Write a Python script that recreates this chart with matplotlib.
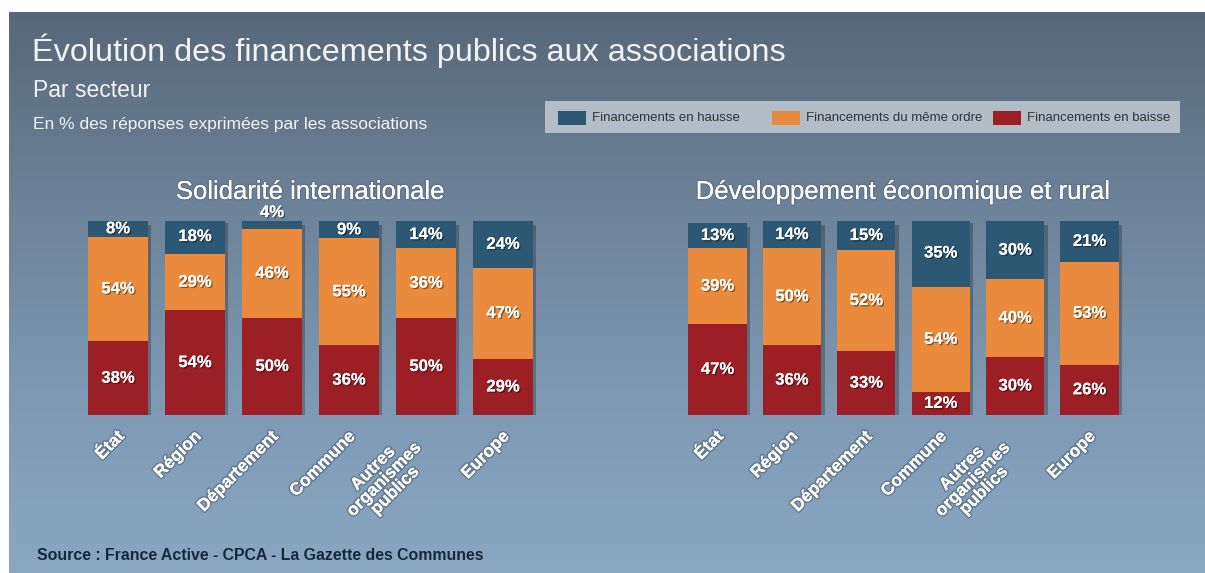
import numpy as np
import matplotlib
matplotlib.use("Agg")
import matplotlib.pyplot as plt
import matplotlib.patheffects as pe
from matplotlib.colors import LinearSegmentedColormap
from matplotlib.patches import Rectangle

plt.rcParams['font.family'] = ['Liberation Sans', 'DejaVu Sans']

# data (% of answers)
categories = ['État', 'Région', 'Département', 'Commune', 'Autres\norganismes\npublics', 'Europe']
series_labels = ['Financements en hausse', 'Financements du même ordre', 'Financements en baisse']

solidarite_hausse = [8, 18, 4, 9, 14, 24]
solidarite_meme = [54, 29, 46, 55, 36, 47]
solidarite_baisse = [38, 54, 50, 36, 50, 29]

dev_hausse = [13, 14, 15, 35, 30, 21]
dev_meme = [39, 50, 52, 54, 40, 53]
dev_baisse = [47, 36, 33, 12, 30, 26]

BLUE = '#2d5874'
ORANGE = '#ea8a3c'
RED = '#9c1f25'

W, H = 1205, 573
fig = plt.figure(figsize=(W / 100, H / 100), dpi=100)
fig.patch.set_facecolor('white')

# gradient backdrop
bg = fig.add_axes([9 / W, 0, 1 - 9 / W, 1 - 12 / H])
cmap = LinearSegmentedColormap.from_list('bg', ['#56687a', '#6c8298', '#7d98b2', '#8aa7c2'])
grad = np.linspace(0, 1, 256).reshape(-1, 1)
bg.imshow(grad, aspect='auto', cmap=cmap, extent=[0, 1, 1, 0])
bg.set_axis_off()


def fx(x):
    return x / W


def fy(y):
    return 1 - y / H


def px_axes(left_px, width_px):
    # bars: 100 % = 194 px, baseline at y=415 px from top
    ax = fig.add_axes([left_px / W, (H - 415) / H, width_px / W, 194 / H])
    ax.set_facecolor('none')
    ax.set_xlim(-0.5, 5.5)
    ax.set_ylim(0, 100)
    ax.set_axis_off()
    return ax


def draw_panel(ax, hausse, meme, baisse, width, title):
    x = np.arange(len(categories))
    baisse = np.array(baisse)
    meme = np.array(meme)
    hausse = np.array(hausse)
    total = baisse + meme + hausse
    # soft drop shadow
    ax.bar(x + 0.05, total, width, bottom=-2, color='black', alpha=0.25, zorder=1)
    ax.bar(x, baisse, width, color=RED, zorder=2)
    ax.bar(x, meme, width, bottom=baisse, color=ORANGE, zorder=2)
    ax.bar(x, hausse, width, bottom=baisse + meme, color=BLUE, zorder=2)

    shadow = [pe.withSimplePatchShadow(offset=(1, -1), shadow_rgbFace='black', alpha=0.4), pe.Normal()]
    for i in range(len(x)):
        segs = [(0, baisse[i]), (baisse[i], meme[i]), (baisse[i] + meme[i], hausse[i])]
        for b, v in segs:
            if v < 6:
                y, va = b + v + 0.5, 'bottom'
            else:
                y, va = b + v / 2, 'center'
            ax.text(x[i], y, f'{v}%', ha='center', va=va, color='white',
                    fontsize=12, fontweight='bold', zorder=5, path_effects=shadow)
        ax.text(x[i] + 0.12, -7, categories[i], rotation=45, ha='right', va='top',
                multialignment='center', color='white', fontsize=12.5, fontweight='bold',
                linespacing=1.05, clip_on=False,
                path_effects=[pe.withStroke(linewidth=2.4, foreground='#4a5d70', alpha=0.5), pe.Normal()])
    ax.text(2.5, 115, title, ha='center', va='center', color='white', fontsize=18.5,
            clip_on=False, path_effects=[pe.withStroke(linewidth=2, foreground='#50627a', alpha=0.4), pe.Normal()])


ax1 = px_axes(118 - 38.5, 6 * 77)
draw_panel(ax1, solidarite_hausse, solidarite_meme, solidarite_baisse, 0.77, 'Solidarité internationale')

ax2 = px_axes(717.5 - 37.2, 6 * 74.4)
draw_panel(ax2, dev_hausse, dev_meme, dev_baisse, 0.78, 'Développement économique et rural')

# headings
fig.text(fx(32), fy(51), 'Évolution des financements publics aux associations',
         color='#f2f2f2', fontsize=23.3, va='center', ha='left')
fig.text(fx(33), fy(90), 'Par secteur', color='#f2f2f2', fontsize=16.5, va='center', ha='left')
fig.text(fx(33), fy(125), 'En % des réponses exprimées par les associations',
         color='#f2f2f2', fontsize=12.5, va='center', ha='left')

# legend strip
fig.patches.append(Rectangle((fx(545), fy(133)), 635 / W, 32 / H, transform=fig.transFigure,
                             facecolor='#b2bdc8', edgecolor='none', zorder=2))
for sx, col, lab in zip((558, 772, 993), (BLUE, ORANGE, RED), series_labels):
    fig.patches.append(Rectangle((fx(sx), fy(125)), 28 / W, 14 / H, transform=fig.transFigure,
                                 facecolor=col, edgecolor='none', zorder=3))
    fig.text(fx(sx + 34), fy(118), lab, color='#333333', fontsize=9.5, va='center', ha='left', zorder=4)

fig.text(fx(37), fy(556), 'Source : France Active - CPCA - La Gazette des Communes',
         color='#17283a', fontsize=11.4, fontweight='bold', va='center', ha='left')

fig.savefig('out.png', dpi=100, facecolor=fig.get_facecolor())
